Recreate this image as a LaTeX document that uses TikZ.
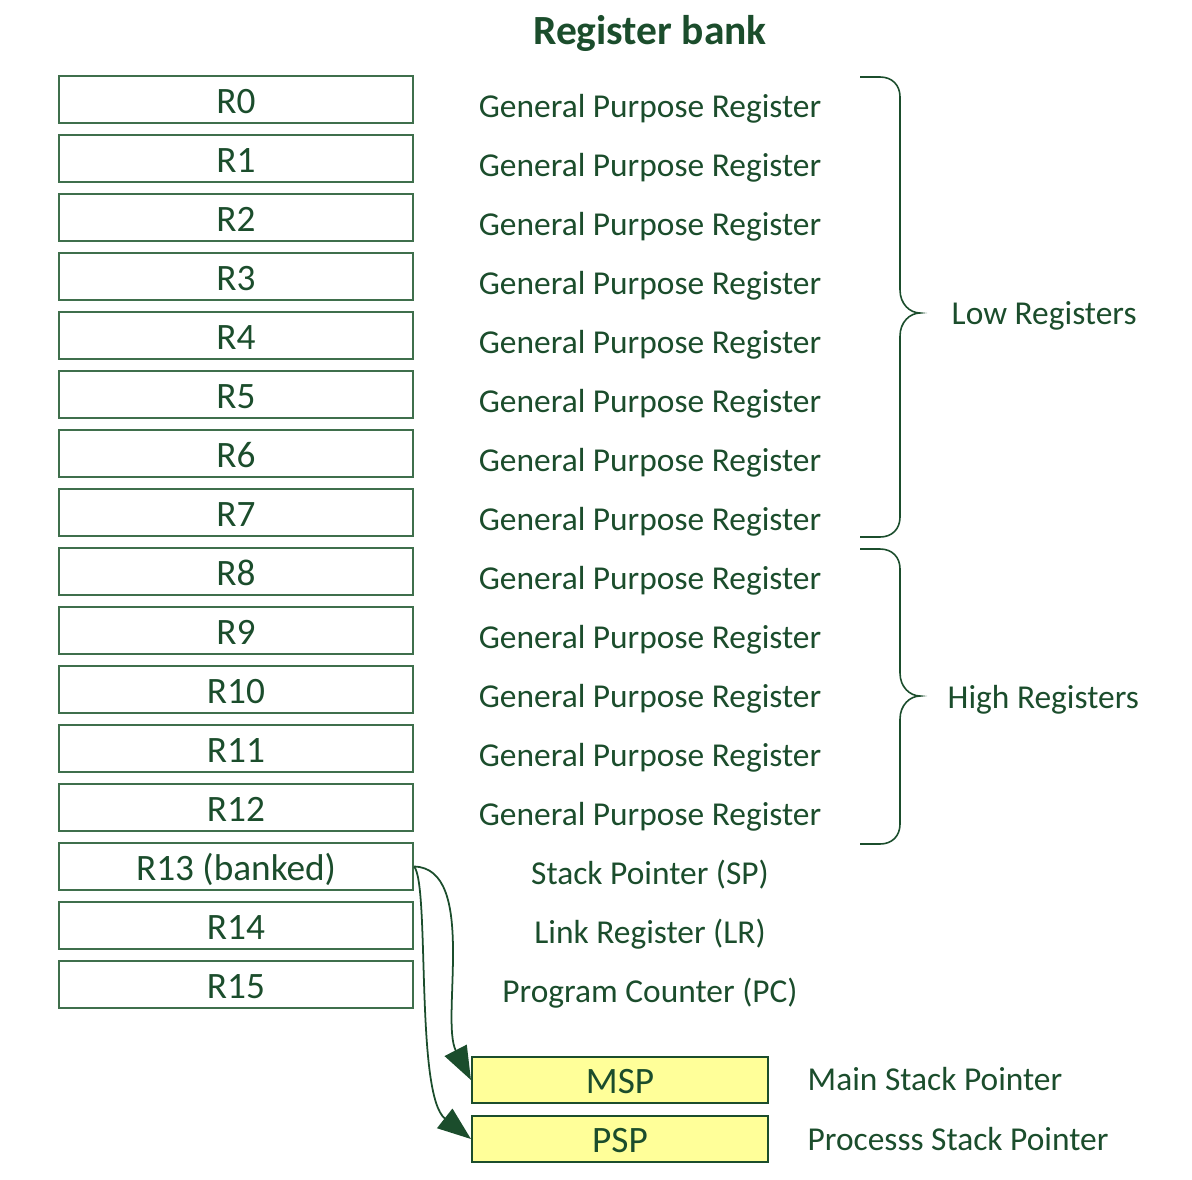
\documentclass[tikz,border=0pt]{standalone}
\usepackage{fontspec}
\setmainfont{Carlito}
\usetikzlibrary{arrows.meta}
\definecolor{regtext}{HTML}{1B4D2C}
\definecolor{regline}{HTML}{3F6F4C}
\definecolor{stackfill}{HTML}{FFFF99}
\begin{document}
\begin{tikzpicture}[x=0.01cm, y=-0.01cm,
        every node/.style={text=regtext, font=\fontsize{9.5}{11}\selectfont},
        regbox/.style={draw=regline, line width=0.55pt, inner sep=0pt, font=\fontsize{10.6}{12}\selectfont,
            minimum width=3.54cm, minimum height=0.47cm, text height=0.77em, text depth=0pt},
        stackbox/.style={regbox, fill=stackfill, draw=regtext, minimum width=2.96cm, minimum height=0.46cm},
        reglabel/.style={anchor=base, inner sep=0pt},
        bracelabel/.style={anchor=base west, inner sep=0pt},
        curl/.style={draw=regtext, line width=0.45pt},
        banked/.style={draw=regtext, line width=0.5pt, -{Triangle[length=9.5pt, width=7pt]}}]
    \useasboundingbox (0,0) rectangle (1192,1179);
    \node[anchor=base, font=\bfseries\fontsize{11.8}{13}\selectfont] (title) at (650,45) {Register bank};
    % the sixteen registers
    \foreach \i in {0,...,12} {
        \node[regbox] (r\i) at (236,{99.5+59*\i}) {R\i};
        \node[reglabel] (l\i) at (650,{117+59*\i}) {General Purpose Register};
    }
    \node[regbox] (r13) at (236,866.5) {R13 (banked)};
    \node[regbox] (r14) at (236,925.5) {R14};
    \node[regbox] (r15) at (236,984.5) {R15};
    \node[reglabel] (l13) at (650,884) {Stack Pointer (SP)};
    \node[reglabel] (l14) at (650,943) {Link Register (LR)};
    \node[reglabel] (l15) at (650,1002) {Program Counter (PC)};
    % banked stack pointers
    \node[stackbox] (msp) at (620,1080) {MSP};
    \node[stackbox] (psp) at (620,1139) {PSP};
    \node[bracelabel] (mspl) at (807,1090) {Main Stack Pointer};
    \node[bracelabel] (pspl) at (807,1150) {Processs Stack Pointer};
    \draw[banked] (r13.east) .. controls (478,868) and (440,1020) .. (msp.west);
    \draw[banked] (r13.east) .. controls (430,885) and (415,1095) .. (psp.west);
    % braces
    \draw[curl] (860,77) -- (880,77) .. controls (892,77) and (900,85) .. (900,97) -- (900,290)
        .. controls (900,304) and (910,313) .. (920,313) .. controls (910,313) and (900,322) .. (900,336)
        -- (900,517) .. controls (900,529) and (892,537) .. (880,537) -- (860,537);
    \draw[curl] (860,549) -- (880,549) .. controls (892,549) and (900,557) .. (900,569) -- (900,673)
        .. controls (900,687) and (910,696) .. (920,696) .. controls (910,696) and (900,705) .. (900,719)
        -- (900,824) .. controls (900,836) and (892,844) .. (880,844) -- (860,844);
    \node[bracelabel] (low) at (951,324) {Low Registers};
    \node[bracelabel] (high) at (947,708) {High Registers};
\end{tikzpicture}
\end{document}
